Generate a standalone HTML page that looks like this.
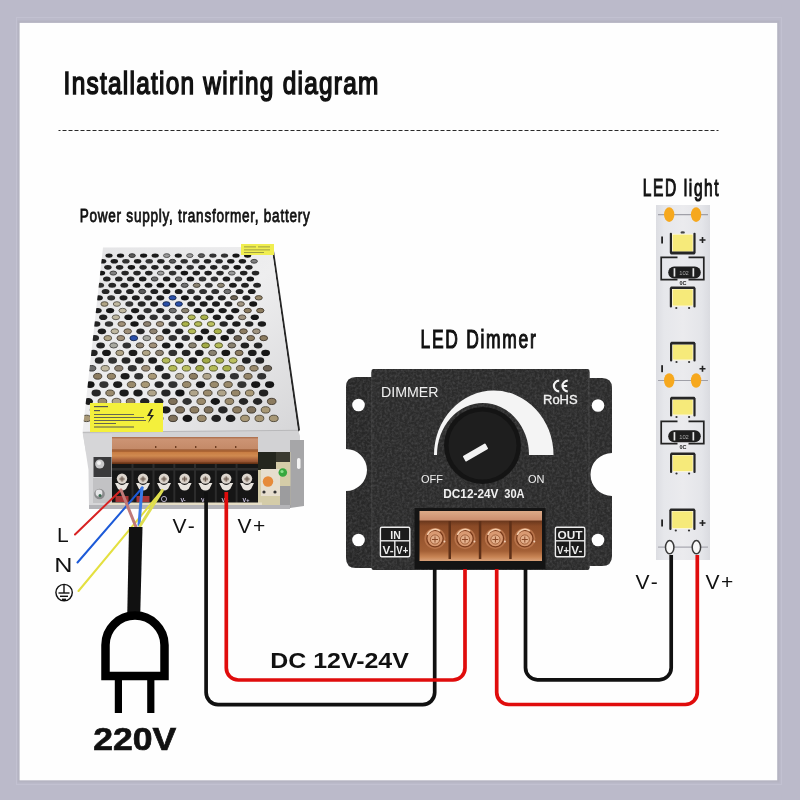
<!DOCTYPE html>
<html><head><meta charset="utf-8">
<style>
html,body{margin:0;padding:0;background:#bbbaca;}
body{width:800px;height:800px;overflow:hidden;position:relative;font-family:"Liberation Sans",sans-serif;}
svg{position:absolute;left:0;top:0;will-change:transform;}
</style></head>
<body>
<svg width="800" height="800" viewBox="0 0 800 800" font-family="Liberation Sans, sans-serif">
<defs>
<linearGradient id="psuTop" x1="0" y1="0" x2="1" y2="1">
<stop offset="0" stop-color="#e4e4e6"/><stop offset="0.5" stop-color="#eeeeef"/><stop offset="1" stop-color="#d6d6d8"/>
</linearGradient>
<linearGradient id="orangeCov" x1="0" y1="0" x2="0" y2="1">
<stop offset="0" stop-color="#a86a48"/><stop offset="0.08" stop-color="#cc9474"/><stop offset="0.44" stop-color="#c48a68"/><stop offset="0.47" stop-color="#a0603a"/><stop offset="0.53" stop-color="#c67a40"/><stop offset="0.7" stop-color="#d08a50"/><stop offset="0.85" stop-color="#a8603a"/><stop offset="1" stop-color="#7e4426"/>
</linearGradient>
<linearGradient id="dimCov" x1="0" y1="0" x2="0" y2="1">
<stop offset="0" stop-color="#dcaa88"/><stop offset="0.17" stop-color="#cc9070"/><stop offset="0.21" stop-color="#6e3a1e"/><stop offset="0.3" stop-color="#8a4a26"/><stop offset="0.8" stop-color="#a46036"/><stop offset="0.92" stop-color="#c88454"/><stop offset="1" stop-color="#d8a078"/>
</linearGradient>
<radialGradient id="screwD" cx="0.45" cy="0.4" r="0.6">
<stop offset="0" stop-color="#f0b888"/><stop offset="0.7" stop-color="#d08c5c"/><stop offset="1" stop-color="#7a3c18"/>
</radialGradient>
<linearGradient id="stripG" x1="0" y1="0" x2="1" y2="0">
<stop offset="0" stop-color="#dcdde2"/><stop offset="0.15" stop-color="#e6e7eb"/><stop offset="0.5" stop-color="#ebebee"/><stop offset="0.85" stop-color="#e4e5e9"/><stop offset="1" stop-color="#dadbe0"/>
</linearGradient>
<filter id="soft" x="-5%" y="-5%" width="110%" height="110%"><feGaussianBlur stdDeviation="0.35"/></filter>
<filter id="grain" x="0" y="0" width="100%" height="100%" filterUnits="userSpaceOnUse">
<feTurbulence type="fractalNoise" baseFrequency="0.4" numOctaves="2" seed="4" result="n"/>
<feColorMatrix in="n" type="matrix" values="0 0 0 0 0.5  0 0 0 0 0.5  0 0 0 0 0.52  1.6 0 0 0 -0.55" />
</filter>
<clipPath id="dimClip">
<path d="M372 377 H356 Q346 377 346 387 V449 A21 21 0 0 1 346 491 V558 Q346 568 356 568 H372 Z"/>
<path d="M589 378 H602 Q612 378 612 388 V453 A21 21 0 0 0 612 496 V556 Q612 566 602 566 H589 Z"/>
<rect x="371.5" y="369" width="218" height="201"/>
</clipPath>
<clipPath id="faceClip"><polygon points="103,247.5 271.5,247 298,430 82.5,432"/></clipPath>
</defs>
<rect x="0" y="0" width="800" height="800" fill="#bbbaca"/>
<rect x="16.5" y="17.5" width="765" height="767" fill="none" stroke="#c2c1d1" stroke-width="1"/>
<rect x="17.5" y="20.5" width="762" height="762" fill="#b5b4c2"/>
<rect x="19.6" y="22.9" width="757.6" height="757.4" fill="#fefefe"/>

<!-- title -->
<text x="63.6" y="93.5" font-size="31" letter-spacing="1.6" fill="#111" stroke="#111" stroke-width="1.55" textLength="316" lengthAdjust="spacingAndGlyphs">Installation wiring diagram</text>
<line x1="58.5" y1="130.5" x2="718.5" y2="130.5" stroke="#2a2a2a" stroke-width="1" stroke-dasharray="4 2" stroke-dashoffset="2"/>

<text x="79.7" y="222.4" font-size="18.4" letter-spacing="1" fill="#111" stroke="#111" stroke-width="0.8" textLength="230.8" lengthAdjust="spacingAndGlyphs">Power supply, transformer, battery</text>
<text x="420.5" y="348.4" font-size="25.5" letter-spacing="2.5" fill="#111" stroke="#111" stroke-width="1.15" textLength="117" lengthAdjust="spacingAndGlyphs">LED Dimmer</text>
<text x="642.8" y="196" font-size="24" letter-spacing="2.5" fill="#111" stroke="#111" stroke-width="1.15" textLength="77.5" lengthAdjust="spacingAndGlyphs">LED light</text>

<!-- ============ POWER SUPPLY ============ -->
<g id="psu">
<!-- right side dark edge -->
<polygon points="271.5,247 273.5,247.5 300,430 298,432" fill="#262626"/>
<!-- top face -->
<polygon points="103,247.5 271.5,247 298,430 82.5,432" fill="url(#psuTop)"/>
<g clip-path="url(#faceClip)" filter="url(#soft)">
<ellipse cx="109.0" cy="255.6" rx="3.6" ry="2.2" fill="#1c1c1c"/>
<ellipse cx="120.5" cy="255.6" rx="3.6" ry="2.2" fill="#141414"/>
<ellipse cx="132.1" cy="255.6" rx="3.2" ry="1.9" fill="#5a5a5a" stroke="#282828" stroke-width="0.9"/>
<ellipse cx="143.6" cy="255.6" rx="3.6" ry="2.2" fill="#141414"/>
<ellipse cx="155.2" cy="255.6" rx="3.6" ry="2.2" fill="#1c1c1c"/>
<ellipse cx="166.7" cy="255.6" rx="3.2" ry="1.9" fill="#9a9a9a" stroke="#454545" stroke-width="0.9"/>
<ellipse cx="178.3" cy="255.6" rx="3.6" ry="2.2" fill="#1c1c1c"/>
<ellipse cx="189.8" cy="255.6" rx="3.2" ry="1.9" fill="#9a9a9a" stroke="#454545" stroke-width="0.9"/>
<ellipse cx="201.4" cy="255.6" rx="3.2" ry="1.9" fill="#5a5a5a" stroke="#282828" stroke-width="0.9"/>
<ellipse cx="212.9" cy="255.6" rx="3.6" ry="2.2" fill="#303030"/>
<ellipse cx="224.5" cy="255.6" rx="3.6" ry="2.2" fill="#303030"/>
<ellipse cx="236.0" cy="255.6" rx="3.6" ry="2.2" fill="#141414"/>
<ellipse cx="247.6" cy="255.6" rx="3.6" ry="2.2" fill="#141414"/>
<ellipse cx="102.6" cy="261.3" rx="3.7" ry="2.3" fill="#1c1c1c"/>
<ellipse cx="114.3" cy="261.3" rx="3.7" ry="2.3" fill="#1c1c1c"/>
<ellipse cx="125.9" cy="261.3" rx="3.7" ry="2.3" fill="#303030"/>
<ellipse cx="137.6" cy="261.3" rx="3.7" ry="2.3" fill="#1c1c1c"/>
<ellipse cx="149.2" cy="261.3" rx="3.7" ry="2.3" fill="#303030"/>
<ellipse cx="160.9" cy="261.3" rx="3.7" ry="2.3" fill="#222"/>
<ellipse cx="172.5" cy="261.3" rx="3.3" ry="1.9" fill="#5a5a5a" stroke="#282828" stroke-width="0.9"/>
<ellipse cx="184.2" cy="261.3" rx="3.7" ry="2.3" fill="#303030"/>
<ellipse cx="195.8" cy="261.3" rx="3.7" ry="2.3" fill="#303030"/>
<ellipse cx="207.5" cy="261.3" rx="3.7" ry="2.3" fill="#222"/>
<ellipse cx="219.1" cy="261.3" rx="3.7" ry="2.3" fill="#282828"/>
<ellipse cx="230.8" cy="261.3" rx="3.7" ry="2.3" fill="#1c1c1c"/>
<ellipse cx="242.4" cy="261.3" rx="3.7" ry="2.3" fill="#1c1c1c"/>
<ellipse cx="254.1" cy="261.3" rx="3.3" ry="1.9" fill="#808080" stroke="#393939" stroke-width="0.9"/>
<ellipse cx="107.9" cy="267.3" rx="3.7" ry="2.4" fill="#222"/>
<ellipse cx="119.6" cy="267.3" rx="3.7" ry="2.4" fill="#222"/>
<ellipse cx="131.4" cy="267.3" rx="3.7" ry="2.4" fill="#141414"/>
<ellipse cx="143.1" cy="267.3" rx="3.7" ry="2.4" fill="#282828"/>
<ellipse cx="154.9" cy="267.3" rx="3.7" ry="2.4" fill="#222"/>
<ellipse cx="166.7" cy="267.3" rx="3.7" ry="2.4" fill="#282828"/>
<ellipse cx="178.4" cy="267.3" rx="3.7" ry="2.4" fill="#141414"/>
<ellipse cx="190.2" cy="267.3" rx="3.7" ry="2.4" fill="#303030"/>
<ellipse cx="201.9" cy="267.3" rx="3.7" ry="2.4" fill="#222"/>
<ellipse cx="213.7" cy="267.3" rx="3.7" ry="2.4" fill="#222"/>
<ellipse cx="225.4" cy="267.3" rx="3.7" ry="2.4" fill="#303030"/>
<ellipse cx="237.2" cy="267.3" rx="3.7" ry="2.4" fill="#141414"/>
<ellipse cx="248.9" cy="267.3" rx="3.7" ry="2.4" fill="#222"/>
<ellipse cx="101.4" cy="273.1" rx="3.8" ry="2.4" fill="#141414"/>
<ellipse cx="113.3" cy="273.1" rx="3.4" ry="2.0" fill="#808080" stroke="#393939" stroke-width="0.9"/>
<ellipse cx="125.1" cy="273.1" rx="3.8" ry="2.4" fill="#282828"/>
<ellipse cx="137.0" cy="273.1" rx="3.8" ry="2.4" fill="#282828"/>
<ellipse cx="148.8" cy="273.1" rx="3.8" ry="2.4" fill="#222"/>
<ellipse cx="160.7" cy="273.1" rx="3.4" ry="2.0" fill="#9a9a9a" stroke="#454545" stroke-width="0.9"/>
<ellipse cx="172.6" cy="273.1" rx="3.8" ry="2.4" fill="#303030"/>
<ellipse cx="184.4" cy="273.1" rx="3.8" ry="2.4" fill="#141414"/>
<ellipse cx="196.3" cy="273.1" rx="3.8" ry="2.4" fill="#222"/>
<ellipse cx="208.1" cy="273.1" rx="3.8" ry="2.4" fill="#1c1c1c"/>
<ellipse cx="220.0" cy="273.1" rx="3.8" ry="2.4" fill="#282828"/>
<ellipse cx="231.8" cy="273.1" rx="3.4" ry="2.0" fill="#9a9a9a" stroke="#454545" stroke-width="0.9"/>
<ellipse cx="243.7" cy="273.1" rx="3.8" ry="2.4" fill="#222"/>
<ellipse cx="255.5" cy="273.1" rx="3.8" ry="2.4" fill="#282828"/>
<ellipse cx="106.8" cy="279.0" rx="3.8" ry="2.5" fill="#222"/>
<ellipse cx="118.8" cy="279.0" rx="3.8" ry="2.5" fill="#222"/>
<ellipse cx="130.7" cy="279.0" rx="3.8" ry="2.5" fill="#282828"/>
<ellipse cx="142.7" cy="279.0" rx="3.8" ry="2.5" fill="#1c1c1c"/>
<ellipse cx="154.6" cy="279.0" rx="3.4" ry="2.1" fill="#6a6a6a" stroke="#2f2f2f" stroke-width="0.9"/>
<ellipse cx="166.6" cy="279.0" rx="3.8" ry="2.5" fill="#1c1c1c"/>
<ellipse cx="178.6" cy="279.0" rx="3.4" ry="2.1" fill="#6a6a6a" stroke="#2f2f2f" stroke-width="0.9"/>
<ellipse cx="190.5" cy="279.0" rx="3.8" ry="2.5" fill="#141414"/>
<ellipse cx="202.5" cy="279.0" rx="3.8" ry="2.5" fill="#303030"/>
<ellipse cx="214.4" cy="279.0" rx="3.8" ry="2.5" fill="#303030"/>
<ellipse cx="226.4" cy="279.0" rx="3.8" ry="2.5" fill="#1c1c1c"/>
<ellipse cx="238.3" cy="279.0" rx="3.8" ry="2.5" fill="#303030"/>
<ellipse cx="250.3" cy="279.0" rx="3.8" ry="2.5" fill="#141414"/>
<ellipse cx="100.2" cy="285.3" rx="3.9" ry="2.5" fill="#303030"/>
<ellipse cx="112.2" cy="285.3" rx="3.9" ry="2.5" fill="#282828"/>
<ellipse cx="124.3" cy="285.3" rx="3.9" ry="2.5" fill="#282828"/>
<ellipse cx="136.4" cy="285.3" rx="3.9" ry="2.5" fill="#141414"/>
<ellipse cx="148.5" cy="285.3" rx="3.9" ry="2.5" fill="#1c1c1c"/>
<ellipse cx="160.5" cy="285.3" rx="3.9" ry="2.5" fill="#141414"/>
<ellipse cx="172.6" cy="285.3" rx="3.9" ry="2.5" fill="#141414"/>
<ellipse cx="184.7" cy="285.3" rx="3.5" ry="2.1" fill="#707070" stroke="#323232" stroke-width="0.9"/>
<ellipse cx="196.7" cy="285.3" rx="3.5" ry="2.1" fill="#8a8270" stroke="#3e3a32" stroke-width="0.9"/>
<ellipse cx="208.8" cy="285.3" rx="3.9" ry="2.5" fill="#303030"/>
<ellipse cx="220.9" cy="285.3" rx="3.5" ry="2.1" fill="#8a8270" stroke="#3e3a32" stroke-width="0.9"/>
<ellipse cx="232.9" cy="285.3" rx="3.9" ry="2.5" fill="#1c1c1c"/>
<ellipse cx="245.0" cy="285.3" rx="3.9" ry="2.5" fill="#222"/>
<ellipse cx="257.1" cy="285.3" rx="3.9" ry="2.5" fill="#282828"/>
<ellipse cx="105.6" cy="291.5" rx="3.9" ry="2.6" fill="#282828"/>
<ellipse cx="117.8" cy="291.5" rx="3.9" ry="2.6" fill="#282828"/>
<ellipse cx="130.0" cy="291.5" rx="3.9" ry="2.6" fill="#222"/>
<ellipse cx="142.2" cy="291.5" rx="3.5" ry="2.2" fill="#5a5a5a" stroke="#282828" stroke-width="0.9"/>
<ellipse cx="154.3" cy="291.5" rx="3.9" ry="2.6" fill="#222"/>
<ellipse cx="166.5" cy="291.5" rx="3.9" ry="2.6" fill="#1c1c1c"/>
<ellipse cx="178.7" cy="291.5" rx="3.9" ry="2.6" fill="#1c1c1c"/>
<ellipse cx="190.9" cy="291.5" rx="3.9" ry="2.6" fill="#303030"/>
<ellipse cx="203.1" cy="291.5" rx="3.9" ry="2.6" fill="#303030"/>
<ellipse cx="215.2" cy="291.5" rx="3.9" ry="2.6" fill="#303030"/>
<ellipse cx="227.4" cy="291.5" rx="3.5" ry="2.2" fill="#707070" stroke="#323232" stroke-width="0.9"/>
<ellipse cx="239.6" cy="291.5" rx="3.9" ry="2.6" fill="#222"/>
<ellipse cx="251.8" cy="291.5" rx="3.9" ry="2.6" fill="#1c1c1c"/>
<ellipse cx="98.9" cy="297.8" rx="4.0" ry="2.6" fill="#1c1c1c"/>
<ellipse cx="111.2" cy="297.8" rx="4.0" ry="2.6" fill="#303030"/>
<ellipse cx="123.5" cy="297.8" rx="4.0" ry="2.6" fill="#1c1c1c"/>
<ellipse cx="135.8" cy="297.8" rx="4.0" ry="2.6" fill="#1c1c1c"/>
<ellipse cx="148.1" cy="297.8" rx="4.0" ry="2.6" fill="#282828"/>
<ellipse cx="160.3" cy="297.8" rx="4.0" ry="2.6" fill="#1c1c1c"/>
<ellipse cx="172.6" cy="297.8" rx="3.6" ry="2.2" fill="#2a50a8" stroke="#12244b" stroke-width="0.9"/>
<ellipse cx="184.9" cy="297.8" rx="4.0" ry="2.6" fill="#141414"/>
<ellipse cx="197.2" cy="297.8" rx="4.0" ry="2.6" fill="#222"/>
<ellipse cx="209.5" cy="297.8" rx="4.0" ry="2.6" fill="#1c1c1c"/>
<ellipse cx="221.8" cy="297.8" rx="4.0" ry="2.6" fill="#222"/>
<ellipse cx="234.1" cy="297.8" rx="3.6" ry="2.2" fill="#6e6454" stroke="#312d25" stroke-width="0.9"/>
<ellipse cx="246.4" cy="297.8" rx="4.0" ry="2.6" fill="#222"/>
<ellipse cx="258.7" cy="297.8" rx="3.6" ry="2.2" fill="#9a8a6c" stroke="#453e30" stroke-width="0.9"/>
<ellipse cx="104.5" cy="304.0" rx="3.6" ry="2.3" fill="#b0a486" stroke="#4f493c" stroke-width="0.9"/>
<ellipse cx="116.9" cy="304.0" rx="3.6" ry="2.3" fill="#c0b8a0" stroke="#565248" stroke-width="0.9"/>
<ellipse cx="129.3" cy="304.0" rx="4.0" ry="2.7" fill="#303030"/>
<ellipse cx="141.7" cy="304.0" rx="4.0" ry="2.7" fill="#282828"/>
<ellipse cx="154.1" cy="304.0" rx="4.0" ry="2.7" fill="#222"/>
<ellipse cx="166.4" cy="304.0" rx="3.6" ry="2.3" fill="#2a50a8" stroke="#12244b" stroke-width="0.9"/>
<ellipse cx="178.8" cy="304.0" rx="3.6" ry="2.3" fill="#2a50a8" stroke="#12244b" stroke-width="0.9"/>
<ellipse cx="191.2" cy="304.0" rx="4.0" ry="2.7" fill="#282828"/>
<ellipse cx="203.6" cy="304.0" rx="4.0" ry="2.7" fill="#1c1c1c"/>
<ellipse cx="216.0" cy="304.0" rx="4.0" ry="2.7" fill="#1c1c1c"/>
<ellipse cx="228.4" cy="304.0" rx="4.0" ry="2.7" fill="#222"/>
<ellipse cx="240.8" cy="304.0" rx="3.6" ry="2.3" fill="#a09480" stroke="#484239" stroke-width="0.9"/>
<ellipse cx="253.2" cy="304.0" rx="4.0" ry="2.7" fill="#141414"/>
<ellipse cx="97.6" cy="310.6" rx="4.1" ry="2.7" fill="#1c1c1c"/>
<ellipse cx="110.1" cy="310.6" rx="4.1" ry="2.7" fill="#141414"/>
<ellipse cx="122.6" cy="310.6" rx="3.7" ry="2.3" fill="#c0b8a0" stroke="#565248" stroke-width="0.9"/>
<ellipse cx="135.1" cy="310.6" rx="4.1" ry="2.7" fill="#1c1c1c"/>
<ellipse cx="147.6" cy="310.6" rx="4.1" ry="2.7" fill="#303030"/>
<ellipse cx="160.2" cy="310.6" rx="4.1" ry="2.7" fill="#222"/>
<ellipse cx="172.7" cy="310.6" rx="3.7" ry="2.3" fill="#707070" stroke="#323232" stroke-width="0.9"/>
<ellipse cx="185.2" cy="310.6" rx="3.7" ry="2.3" fill="#8a8270" stroke="#3e3a32" stroke-width="0.9"/>
<ellipse cx="197.7" cy="310.6" rx="4.1" ry="2.7" fill="#141414"/>
<ellipse cx="210.2" cy="310.6" rx="4.1" ry="2.7" fill="#1c1c1c"/>
<ellipse cx="222.7" cy="310.6" rx="4.1" ry="2.7" fill="#1c1c1c"/>
<ellipse cx="235.2" cy="310.6" rx="4.1" ry="2.7" fill="#1c1c1c"/>
<ellipse cx="247.7" cy="310.6" rx="3.7" ry="2.3" fill="#8c7c60" stroke="#3f372b" stroke-width="0.9"/>
<ellipse cx="260.3" cy="310.6" rx="3.7" ry="2.3" fill="#8c7c60" stroke="#3f372b" stroke-width="0.9"/>
<ellipse cx="103.2" cy="317.3" rx="4.1" ry="2.8" fill="#222"/>
<ellipse cx="115.9" cy="317.3" rx="3.7" ry="2.4" fill="#c0b8a0" stroke="#565248" stroke-width="0.9"/>
<ellipse cx="128.5" cy="317.3" rx="4.1" ry="2.8" fill="#141414"/>
<ellipse cx="141.1" cy="317.3" rx="4.1" ry="2.8" fill="#222"/>
<ellipse cx="153.7" cy="317.3" rx="4.1" ry="2.8" fill="#303030"/>
<ellipse cx="166.4" cy="317.3" rx="4.1" ry="2.8" fill="#303030"/>
<ellipse cx="179.0" cy="317.3" rx="4.1" ry="2.8" fill="#303030"/>
<ellipse cx="191.6" cy="317.3" rx="3.7" ry="2.4" fill="#b4ba58" stroke="#515327" stroke-width="0.9"/>
<ellipse cx="204.3" cy="317.3" rx="3.7" ry="2.4" fill="#aab24a" stroke="#4c5021" stroke-width="0.9"/>
<ellipse cx="216.9" cy="317.3" rx="4.1" ry="2.8" fill="#1c1c1c"/>
<ellipse cx="229.5" cy="317.3" rx="4.1" ry="2.8" fill="#1c1c1c"/>
<ellipse cx="242.2" cy="317.3" rx="3.7" ry="2.4" fill="#a09480" stroke="#484239" stroke-width="0.9"/>
<ellipse cx="254.8" cy="317.3" rx="4.1" ry="2.8" fill="#141414"/>
<ellipse cx="96.2" cy="324.0" rx="4.2" ry="2.8" fill="#222"/>
<ellipse cx="109.0" cy="324.0" rx="4.2" ry="2.8" fill="#303030"/>
<ellipse cx="121.7" cy="324.0" rx="3.8" ry="2.4" fill="#a09078" stroke="#484036" stroke-width="0.9"/>
<ellipse cx="134.5" cy="324.0" rx="4.2" ry="2.8" fill="#141414"/>
<ellipse cx="147.2" cy="324.0" rx="3.8" ry="2.4" fill="#8e8270" stroke="#3f3a32" stroke-width="0.9"/>
<ellipse cx="160.0" cy="324.0" rx="3.8" ry="2.4" fill="#a09078" stroke="#484036" stroke-width="0.9"/>
<ellipse cx="172.7" cy="324.0" rx="4.2" ry="2.8" fill="#303030"/>
<ellipse cx="185.5" cy="324.0" rx="3.8" ry="2.4" fill="#aab24a" stroke="#4c5021" stroke-width="0.9"/>
<ellipse cx="198.2" cy="324.0" rx="3.8" ry="2.4" fill="#b4ba58" stroke="#515327" stroke-width="0.9"/>
<ellipse cx="211.0" cy="324.0" rx="3.8" ry="2.4" fill="#bcc060" stroke="#54562b" stroke-width="0.9"/>
<ellipse cx="223.7" cy="324.0" rx="4.2" ry="2.8" fill="#282828"/>
<ellipse cx="236.4" cy="324.0" rx="4.2" ry="2.8" fill="#1c1c1c"/>
<ellipse cx="249.2" cy="324.0" rx="4.2" ry="2.8" fill="#222"/>
<ellipse cx="261.9" cy="324.0" rx="4.2" ry="2.8" fill="#1c1c1c"/>
<ellipse cx="101.9" cy="331.3" rx="4.2" ry="2.9" fill="#1c1c1c"/>
<ellipse cx="114.8" cy="331.3" rx="3.8" ry="2.5" fill="#c0b8a0" stroke="#565248" stroke-width="0.9"/>
<ellipse cx="127.7" cy="331.3" rx="3.8" ry="2.5" fill="#a09078" stroke="#484036" stroke-width="0.9"/>
<ellipse cx="140.5" cy="331.3" rx="4.2" ry="2.9" fill="#282828"/>
<ellipse cx="153.4" cy="331.3" rx="3.8" ry="2.5" fill="#8e8270" stroke="#3f3a32" stroke-width="0.9"/>
<ellipse cx="166.3" cy="331.3" rx="4.2" ry="2.9" fill="#1c1c1c"/>
<ellipse cx="179.2" cy="331.3" rx="4.2" ry="2.9" fill="#222"/>
<ellipse cx="192.0" cy="331.3" rx="3.8" ry="2.5" fill="#b4ba58" stroke="#515327" stroke-width="0.9"/>
<ellipse cx="204.9" cy="331.3" rx="4.2" ry="2.9" fill="#1c1c1c"/>
<ellipse cx="217.8" cy="331.3" rx="3.8" ry="2.5" fill="#aab24a" stroke="#4c5021" stroke-width="0.9"/>
<ellipse cx="230.7" cy="331.3" rx="4.2" ry="2.9" fill="#282828"/>
<ellipse cx="243.5" cy="331.3" rx="3.8" ry="2.5" fill="#8c7c60" stroke="#3f372b" stroke-width="0.9"/>
<ellipse cx="256.4" cy="331.3" rx="3.8" ry="2.5" fill="#a09480" stroke="#484239" stroke-width="0.9"/>
<ellipse cx="94.8" cy="338.1" rx="4.3" ry="3.0" fill="#282828"/>
<ellipse cx="107.8" cy="338.1" rx="3.9" ry="2.6" fill="#b0a486" stroke="#4f493c" stroke-width="0.9"/>
<ellipse cx="120.8" cy="338.1" rx="3.9" ry="2.6" fill="#a09078" stroke="#484036" stroke-width="0.9"/>
<ellipse cx="133.8" cy="338.1" rx="3.9" ry="2.6" fill="#2a50a8" stroke="#12244b" stroke-width="0.9"/>
<ellipse cx="146.8" cy="338.1" rx="3.9" ry="2.6" fill="#a8a8a0" stroke="#4b4b48" stroke-width="0.9"/>
<ellipse cx="159.8" cy="338.1" rx="3.9" ry="2.6" fill="#a09078" stroke="#484036" stroke-width="0.9"/>
<ellipse cx="172.8" cy="338.1" rx="4.3" ry="3.0" fill="#303030"/>
<ellipse cx="185.7" cy="338.1" rx="4.3" ry="3.0" fill="#303030"/>
<ellipse cx="198.7" cy="338.1" rx="4.3" ry="3.0" fill="#141414"/>
<ellipse cx="211.7" cy="338.1" rx="4.3" ry="3.0" fill="#1c1c1c"/>
<ellipse cx="224.7" cy="338.1" rx="4.3" ry="3.0" fill="#141414"/>
<ellipse cx="237.7" cy="338.1" rx="3.9" ry="2.6" fill="#6e6454" stroke="#312d25" stroke-width="0.9"/>
<ellipse cx="250.7" cy="338.1" rx="3.9" ry="2.6" fill="#8c7c60" stroke="#3f372b" stroke-width="0.9"/>
<ellipse cx="263.7" cy="338.1" rx="3.9" ry="2.6" fill="#8c7c60" stroke="#3f372b" stroke-width="0.9"/>
<ellipse cx="100.6" cy="345.4" rx="4.3" ry="3.0" fill="#222"/>
<ellipse cx="113.7" cy="345.4" rx="3.9" ry="2.6" fill="#a8a8a0" stroke="#4b4b48" stroke-width="0.9"/>
<ellipse cx="126.8" cy="345.4" rx="4.3" ry="3.0" fill="#303030"/>
<ellipse cx="140.0" cy="345.4" rx="3.9" ry="2.6" fill="#8e8270" stroke="#3f3a32" stroke-width="0.9"/>
<ellipse cx="153.1" cy="345.4" rx="3.9" ry="2.6" fill="#a09078" stroke="#484036" stroke-width="0.9"/>
<ellipse cx="166.2" cy="345.4" rx="4.3" ry="3.0" fill="#1c1c1c"/>
<ellipse cx="179.3" cy="345.4" rx="4.3" ry="3.0" fill="#141414"/>
<ellipse cx="192.5" cy="345.4" rx="3.9" ry="2.6" fill="#8a8270" stroke="#3e3a32" stroke-width="0.9"/>
<ellipse cx="205.6" cy="345.4" rx="3.9" ry="2.6" fill="#a2aa44" stroke="#484c1e" stroke-width="0.9"/>
<ellipse cx="218.7" cy="345.4" rx="3.9" ry="2.6" fill="#b4ba58" stroke="#515327" stroke-width="0.9"/>
<ellipse cx="231.8" cy="345.4" rx="3.9" ry="2.6" fill="#8a8270" stroke="#3e3a32" stroke-width="0.9"/>
<ellipse cx="244.9" cy="345.4" rx="4.3" ry="3.0" fill="#222"/>
<ellipse cx="258.1" cy="345.4" rx="4.3" ry="3.0" fill="#282828"/>
<ellipse cx="93.3" cy="352.9" rx="4.4" ry="3.1" fill="#222"/>
<ellipse cx="106.5" cy="352.9" rx="4.4" ry="3.1" fill="#141414"/>
<ellipse cx="119.8" cy="352.9" rx="4.0" ry="2.7" fill="#b0a486" stroke="#4f493c" stroke-width="0.9"/>
<ellipse cx="133.0" cy="352.9" rx="4.4" ry="3.1" fill="#1c1c1c"/>
<ellipse cx="146.3" cy="352.9" rx="4.0" ry="2.7" fill="#b0a486" stroke="#4f493c" stroke-width="0.9"/>
<ellipse cx="159.5" cy="352.9" rx="4.0" ry="2.7" fill="#8e8270" stroke="#3f3a32" stroke-width="0.9"/>
<ellipse cx="172.8" cy="352.9" rx="4.4" ry="3.1" fill="#303030"/>
<ellipse cx="186.1" cy="352.9" rx="4.4" ry="3.1" fill="#222"/>
<ellipse cx="199.3" cy="352.9" rx="4.4" ry="3.1" fill="#1c1c1c"/>
<ellipse cx="212.6" cy="352.9" rx="4.0" ry="2.7" fill="#8a8270" stroke="#3e3a32" stroke-width="0.9"/>
<ellipse cx="225.8" cy="352.9" rx="4.4" ry="3.1" fill="#141414"/>
<ellipse cx="239.1" cy="352.9" rx="4.0" ry="2.7" fill="#8c7c60" stroke="#3f372b" stroke-width="0.9"/>
<ellipse cx="252.3" cy="352.9" rx="4.4" ry="3.1" fill="#1c1c1c"/>
<ellipse cx="265.6" cy="352.9" rx="4.4" ry="3.1" fill="#141414"/>
<ellipse cx="99.2" cy="360.5" rx="4.4" ry="3.2" fill="#282828"/>
<ellipse cx="112.6" cy="360.5" rx="4.4" ry="3.2" fill="#303030"/>
<ellipse cx="126.0" cy="360.5" rx="4.4" ry="3.2" fill="#282828"/>
<ellipse cx="139.4" cy="360.5" rx="4.4" ry="3.2" fill="#222"/>
<ellipse cx="152.7" cy="360.5" rx="4.4" ry="3.2" fill="#1c1c1c"/>
<ellipse cx="166.1" cy="360.5" rx="4.0" ry="2.8" fill="#b4ba58" stroke="#515327" stroke-width="0.9"/>
<ellipse cx="179.5" cy="360.5" rx="4.0" ry="2.8" fill="#a2aa44" stroke="#484c1e" stroke-width="0.9"/>
<ellipse cx="192.9" cy="360.5" rx="4.4" ry="3.2" fill="#1c1c1c"/>
<ellipse cx="206.3" cy="360.5" rx="4.0" ry="2.8" fill="#a2aa44" stroke="#484c1e" stroke-width="0.9"/>
<ellipse cx="219.7" cy="360.5" rx="4.0" ry="2.8" fill="#aab24a" stroke="#4c5021" stroke-width="0.9"/>
<ellipse cx="233.1" cy="360.5" rx="4.0" ry="2.8" fill="#bcc060" stroke="#54562b" stroke-width="0.9"/>
<ellipse cx="246.4" cy="360.5" rx="4.4" ry="3.2" fill="#222"/>
<ellipse cx="259.8" cy="360.5" rx="4.4" ry="3.2" fill="#222"/>
<ellipse cx="91.7" cy="368.3" rx="4.1" ry="2.8" fill="#6a6a6a" stroke="#2f2f2f" stroke-width="0.9"/>
<ellipse cx="105.2" cy="368.3" rx="4.1" ry="2.8" fill="#c0b8a0" stroke="#565248" stroke-width="0.9"/>
<ellipse cx="118.8" cy="368.3" rx="4.1" ry="2.8" fill="#8e8270" stroke="#3f3a32" stroke-width="0.9"/>
<ellipse cx="132.3" cy="368.3" rx="4.5" ry="3.2" fill="#303030"/>
<ellipse cx="145.8" cy="368.3" rx="4.1" ry="2.8" fill="#a09078" stroke="#484036" stroke-width="0.9"/>
<ellipse cx="159.3" cy="368.3" rx="4.5" ry="3.2" fill="#222"/>
<ellipse cx="172.8" cy="368.3" rx="4.1" ry="2.8" fill="#b4ba58" stroke="#515327" stroke-width="0.9"/>
<ellipse cx="186.4" cy="368.3" rx="4.1" ry="2.8" fill="#bcc060" stroke="#54562b" stroke-width="0.9"/>
<ellipse cx="199.9" cy="368.3" rx="4.1" ry="2.8" fill="#a2aa44" stroke="#484c1e" stroke-width="0.9"/>
<ellipse cx="213.4" cy="368.3" rx="4.1" ry="2.8" fill="#b4ba58" stroke="#515327" stroke-width="0.9"/>
<ellipse cx="226.9" cy="368.3" rx="4.1" ry="2.8" fill="#aab24a" stroke="#4c5021" stroke-width="0.9"/>
<ellipse cx="240.5" cy="368.3" rx="4.1" ry="2.8" fill="#9a8a6c" stroke="#453e30" stroke-width="0.9"/>
<ellipse cx="254.0" cy="368.3" rx="4.1" ry="2.8" fill="#9a8a6c" stroke="#453e30" stroke-width="0.9"/>
<ellipse cx="267.5" cy="368.3" rx="4.1" ry="2.8" fill="#6e6454" stroke="#312d25" stroke-width="0.9"/>
<ellipse cx="97.7" cy="376.3" rx="4.1" ry="2.9" fill="#8c7c60" stroke="#3f372b" stroke-width="0.9"/>
<ellipse cx="111.4" cy="376.3" rx="4.1" ry="2.9" fill="#958568" stroke="#433b2e" stroke-width="0.9"/>
<ellipse cx="125.1" cy="376.3" rx="4.5" ry="3.3" fill="#1c1c1c"/>
<ellipse cx="138.7" cy="376.3" rx="4.5" ry="3.3" fill="#303030"/>
<ellipse cx="152.4" cy="376.3" rx="4.1" ry="2.9" fill="#a89876" stroke="#4b4435" stroke-width="0.9"/>
<ellipse cx="166.0" cy="376.3" rx="4.5" ry="3.3" fill="#282828"/>
<ellipse cx="179.7" cy="376.3" rx="4.1" ry="2.9" fill="#b0a48a" stroke="#4f493e" stroke-width="0.9"/>
<ellipse cx="193.4" cy="376.3" rx="4.1" ry="2.9" fill="#8c7c60" stroke="#3f372b" stroke-width="0.9"/>
<ellipse cx="207.0" cy="376.3" rx="4.1" ry="2.9" fill="#b0a48a" stroke="#4f493e" stroke-width="0.9"/>
<ellipse cx="220.7" cy="376.3" rx="4.5" ry="3.3" fill="#282828"/>
<ellipse cx="234.4" cy="376.3" rx="4.5" ry="3.3" fill="#303030"/>
<ellipse cx="248.0" cy="376.3" rx="4.1" ry="2.9" fill="#958568" stroke="#433b2e" stroke-width="0.9"/>
<ellipse cx="261.7" cy="376.3" rx="4.5" ry="3.3" fill="#303030"/>
<ellipse cx="90.0" cy="384.6" rx="4.6" ry="3.4" fill="#141414"/>
<ellipse cx="103.9" cy="384.6" rx="4.6" ry="3.4" fill="#303030"/>
<ellipse cx="117.7" cy="384.6" rx="4.6" ry="3.4" fill="#1c1c1c"/>
<ellipse cx="131.5" cy="384.6" rx="4.2" ry="3.0" fill="#9a8a6c" stroke="#453e30" stroke-width="0.9"/>
<ellipse cx="145.3" cy="384.6" rx="4.2" ry="3.0" fill="#a89876" stroke="#4b4435" stroke-width="0.9"/>
<ellipse cx="159.1" cy="384.6" rx="4.6" ry="3.4" fill="#282828"/>
<ellipse cx="172.9" cy="384.6" rx="4.6" ry="3.4" fill="#303030"/>
<ellipse cx="186.7" cy="384.6" rx="4.2" ry="3.0" fill="#9a8a6c" stroke="#453e30" stroke-width="0.9"/>
<ellipse cx="200.5" cy="384.6" rx="4.6" ry="3.4" fill="#1c1c1c"/>
<ellipse cx="214.3" cy="384.6" rx="4.2" ry="3.0" fill="#9a8a6c" stroke="#453e30" stroke-width="0.9"/>
<ellipse cx="228.1" cy="384.6" rx="4.2" ry="3.0" fill="#9a8a6c" stroke="#453e30" stroke-width="0.9"/>
<ellipse cx="241.9" cy="384.6" rx="4.6" ry="3.4" fill="#303030"/>
<ellipse cx="255.7" cy="384.6" rx="4.6" ry="3.4" fill="#141414"/>
<ellipse cx="269.6" cy="384.6" rx="4.6" ry="3.4" fill="#141414"/>
<ellipse cx="96.2" cy="393.0" rx="4.7" ry="3.4" fill="#282828"/>
<ellipse cx="110.1" cy="393.0" rx="4.3" ry="3.0" fill="#9a8a6c" stroke="#453e30" stroke-width="0.9"/>
<ellipse cx="124.1" cy="393.0" rx="4.7" ry="3.4" fill="#1c1c1c"/>
<ellipse cx="138.0" cy="393.0" rx="4.7" ry="3.4" fill="#1c1c1c"/>
<ellipse cx="152.0" cy="393.0" rx="4.3" ry="3.0" fill="#b0a48a" stroke="#4f493e" stroke-width="0.9"/>
<ellipse cx="165.9" cy="393.0" rx="4.7" ry="3.4" fill="#282828"/>
<ellipse cx="179.9" cy="393.0" rx="4.7" ry="3.4" fill="#141414"/>
<ellipse cx="193.9" cy="393.0" rx="4.3" ry="3.0" fill="#b0a48a" stroke="#4f493e" stroke-width="0.9"/>
<ellipse cx="207.8" cy="393.0" rx="4.3" ry="3.0" fill="#9a8a6c" stroke="#453e30" stroke-width="0.9"/>
<ellipse cx="221.8" cy="393.0" rx="4.3" ry="3.0" fill="#b0a48a" stroke="#4f493e" stroke-width="0.9"/>
<ellipse cx="235.7" cy="393.0" rx="4.3" ry="3.0" fill="#958568" stroke="#433b2e" stroke-width="0.9"/>
<ellipse cx="249.7" cy="393.0" rx="4.3" ry="3.0" fill="#a89876" stroke="#4b4435" stroke-width="0.9"/>
<ellipse cx="263.6" cy="393.0" rx="4.7" ry="3.4" fill="#222"/>
<ellipse cx="88.3" cy="401.4" rx="4.7" ry="3.5" fill="#1c1c1c"/>
<ellipse cx="102.4" cy="401.4" rx="4.3" ry="3.1" fill="#9a8a6c" stroke="#453e30" stroke-width="0.9"/>
<ellipse cx="116.5" cy="401.4" rx="4.3" ry="3.1" fill="#b0a48a" stroke="#4f493e" stroke-width="0.9"/>
<ellipse cx="130.6" cy="401.4" rx="4.3" ry="3.1" fill="#8c7c60" stroke="#3f372b" stroke-width="0.9"/>
<ellipse cx="144.7" cy="401.4" rx="4.7" ry="3.5" fill="#222"/>
<ellipse cx="158.8" cy="401.4" rx="4.7" ry="3.5" fill="#222"/>
<ellipse cx="172.9" cy="401.4" rx="4.3" ry="3.1" fill="#7e705a" stroke="#383228" stroke-width="0.9"/>
<ellipse cx="187.1" cy="401.4" rx="4.7" ry="3.5" fill="#303030"/>
<ellipse cx="201.2" cy="401.4" rx="4.3" ry="3.1" fill="#9a8a6c" stroke="#453e30" stroke-width="0.9"/>
<ellipse cx="215.3" cy="401.4" rx="4.7" ry="3.5" fill="#141414"/>
<ellipse cx="229.4" cy="401.4" rx="4.3" ry="3.1" fill="#9a8a6c" stroke="#453e30" stroke-width="0.9"/>
<ellipse cx="243.5" cy="401.4" rx="4.7" ry="3.5" fill="#282828"/>
<ellipse cx="257.6" cy="401.4" rx="4.7" ry="3.5" fill="#282828"/>
<ellipse cx="271.7" cy="401.4" rx="4.3" ry="3.1" fill="#8c7c60" stroke="#3f372b" stroke-width="0.9"/>
<ellipse cx="94.6" cy="409.9" rx="4.4" ry="3.2" fill="#9a8a6c" stroke="#453e30" stroke-width="0.9"/>
<ellipse cx="108.8" cy="409.9" rx="4.4" ry="3.2" fill="#958568" stroke="#433b2e" stroke-width="0.9"/>
<ellipse cx="123.1" cy="409.9" rx="4.4" ry="3.2" fill="#a89876" stroke="#4b4435" stroke-width="0.9"/>
<ellipse cx="137.3" cy="409.9" rx="4.4" ry="3.2" fill="#b0a48a" stroke="#4f493e" stroke-width="0.9"/>
<ellipse cx="151.6" cy="409.9" rx="4.4" ry="3.2" fill="#9a8a6c" stroke="#453e30" stroke-width="0.9"/>
<ellipse cx="165.8" cy="409.9" rx="4.8" ry="3.6" fill="#1c1c1c"/>
<ellipse cx="180.1" cy="409.9" rx="4.4" ry="3.2" fill="#7e705a" stroke="#383228" stroke-width="0.9"/>
<ellipse cx="194.4" cy="409.9" rx="4.4" ry="3.2" fill="#8c7c60" stroke="#3f372b" stroke-width="0.9"/>
<ellipse cx="208.6" cy="409.9" rx="4.4" ry="3.2" fill="#7e705a" stroke="#383228" stroke-width="0.9"/>
<ellipse cx="222.9" cy="409.9" rx="4.8" ry="3.6" fill="#282828"/>
<ellipse cx="237.1" cy="409.9" rx="4.4" ry="3.2" fill="#8c7c60" stroke="#3f372b" stroke-width="0.9"/>
<ellipse cx="251.4" cy="409.9" rx="4.4" ry="3.2" fill="#7e705a" stroke="#383228" stroke-width="0.9"/>
<ellipse cx="265.6" cy="409.9" rx="4.4" ry="3.2" fill="#a89876" stroke="#4b4435" stroke-width="0.9"/>
<ellipse cx="86.6" cy="418.4" rx="4.4" ry="3.2" fill="#a89876" stroke="#4b4435" stroke-width="0.9"/>
<ellipse cx="101.0" cy="418.4" rx="4.8" ry="3.6" fill="#141414"/>
<ellipse cx="115.4" cy="418.4" rx="4.8" ry="3.6" fill="#1c1c1c"/>
<ellipse cx="129.8" cy="418.4" rx="4.8" ry="3.6" fill="#222"/>
<ellipse cx="144.2" cy="418.4" rx="4.4" ry="3.2" fill="#9a8a6c" stroke="#453e30" stroke-width="0.9"/>
<ellipse cx="158.6" cy="418.4" rx="4.4" ry="3.2" fill="#958568" stroke="#433b2e" stroke-width="0.9"/>
<ellipse cx="173.0" cy="418.4" rx="4.4" ry="3.2" fill="#7e705a" stroke="#383228" stroke-width="0.9"/>
<ellipse cx="187.4" cy="418.4" rx="4.8" ry="3.6" fill="#141414"/>
<ellipse cx="201.8" cy="418.4" rx="4.4" ry="3.2" fill="#9a8a6c" stroke="#453e30" stroke-width="0.9"/>
<ellipse cx="216.2" cy="418.4" rx="4.8" ry="3.6" fill="#222"/>
<ellipse cx="230.6" cy="418.4" rx="4.8" ry="3.6" fill="#1c1c1c"/>
<ellipse cx="245.0" cy="418.4" rx="4.4" ry="3.2" fill="#a89876" stroke="#4b4435" stroke-width="0.9"/>
<ellipse cx="259.4" cy="418.4" rx="4.4" ry="3.2" fill="#a89876" stroke="#4b4435" stroke-width="0.9"/>
<ellipse cx="273.8" cy="418.4" rx="4.4" ry="3.2" fill="#a89876" stroke="#4b4435" stroke-width="0.9"/>
</g>
<!-- top yellow sticker -->
<rect x="241" y="244" width="33" height="11" fill="#f0ee50"/>
<g fill="#8a8a40"><rect x="244" y="246.5" width="12" height="0.8"/><rect x="258" y="246.5" width="12" height="0.8"/><rect x="244" y="249.5" width="26" height="0.8"/><rect x="244" y="252" width="20" height="0.8"/></g>
<!-- front lip -->
<polygon points="82.5,432 298,430 300,436 300,452 86,452" fill="#d2d2d4"/>
<line x1="83" y1="432.3" x2="298" y2="430.3" stroke="#b8b8ba" stroke-width="1"/>
<!-- left front metal -->
<polygon points="83,434 112,434 112,508 89,508 88.5,470" fill="#d6d6d8"/>
<rect x="93.5" y="457" width="18" height="20" fill="#3a3a3c"/>
<circle cx="99.7" cy="464" r="4.6" fill="#c8c8ca"/><circle cx="99" cy="463" r="2" fill="#f2f2f2"/>
<rect x="93" y="478" width="19" height="25" fill="#c2c2c4"/>
<circle cx="99.5" cy="494" r="5.3" fill="#8a8a8c"/><circle cx="99" cy="493" r="3.4" fill="#e4e4e6"/><circle cx="100" cy="495.5" r="1.5" fill="#3a6a50"/>
<!-- right bracket -->
<polygon points="290,440 304,440 304,506 290,508" fill="#a6a6a8"/>
<rect x="297" y="458" width="3.5" height="11" rx="1.7" fill="#f4f4f4"/>
<!-- PCB -->
<rect x="258" y="452" width="32.5" height="53" fill="#d4cca8"/>
<rect x="258" y="452" width="18" height="18" fill="#24261e"/>
<rect x="276" y="452" width="14" height="10" fill="#3a3a30"/>
<rect x="261" y="469" width="19" height="27" fill="#e6dece"/>
<circle cx="282.8" cy="472.5" r="4.3" fill="#36a83e"/><circle cx="282" cy="471.5" r="1.6" fill="#8ae08a"/>
<circle cx="268" cy="481.5" r="5.2" fill="#e68a3a"/>
<circle cx="264" cy="492" r="1.6" fill="#333"/><circle cx="275" cy="492" r="1.6" fill="#333"/>
<rect x="280" y="486" width="10.5" height="22" fill="#9c9c9e"/>
<!-- yellow label -->
<rect x="90" y="403" width="73" height="29" fill="#f4f03c"/>
<g fill="#555" >
<rect x="94" y="406" width="14" height="1.2"/><rect x="94" y="410" width="6" height="1.2"/>
<rect x="94" y="414" width="40" height="0.9"/><rect x="94" y="417" width="50" height="0.9"/><rect x="94" y="420" width="52" height="0.9"/>
<rect x="94" y="423" width="22" height="0.9"/><rect x="94" y="426.5" width="40" height="1"/>
</g>
<path d="M151 409 l-4 7 h4 l-3 7 l6 -8 h-4 l3 -6 z" fill="#222"/>
<!-- orange cover -->
<rect x="112" y="437" width="146" height="27" fill="url(#orangeCov)"/>
<rect x="112" y="450.5" width="146" height="1.2" fill="#8a4a24" opacity="0.6"/>
<rect x="112" y="462.5" width="146" height="1.5" fill="#6a3416"/>
<g fill="#6a3a20"><rect x="155" y="446" width="1.4" height="2"/><rect x="175" y="446" width="1.4" height="2"/><rect x="195" y="446" width="1.4" height="2"/><rect x="215" y="446" width="1.4" height="2"/><rect x="235" y="446" width="1.4" height="2"/></g>
<!-- terminal block -->
<rect x="112" y="464" width="146" height="39" fill="#161616"/>
<rect x="112" y="468" width="146" height="2.5" fill="#2e2e2e"/>
<rect x="131.5" y="464" width="2" height="39" fill="#2c2c2c"/>
<rect x="152.5" y="464" width="2" height="39" fill="#2c2c2c"/>
<rect x="173.3" y="464" width="2" height="39" fill="#2c2c2c"/>
<rect x="194.0" y="464" width="2" height="39" fill="#2c2c2c"/>
<rect x="214.8" y="464" width="2" height="39" fill="#2c2c2c"/>
<rect x="235.6" y="464" width="2" height="39" fill="#2c2c2c"/>
<circle cx="122" cy="478.6" r="5.2" fill="#ddd6ce"/>
<circle cx="122" cy="479" r="2.6" fill="#b8aca0"/>
<path d="M119.5 479 h5 M122 476.5 v5" stroke="#6a5a50" stroke-width="1"/>
<path d="M115 483 l3 0 q4 4 8 0 l3 0 l-3 6 q-4 3 -8 0 z" fill="#e8e4de"/>
<circle cx="143" cy="478.6" r="5.2" fill="#ddd6ce"/>
<circle cx="143" cy="479" r="2.6" fill="#b8aca0"/>
<path d="M140.5 479 h5 M143 476.5 v5" stroke="#6a5a50" stroke-width="1"/>
<path d="M136 483 l3 0 q4 4 8 0 l3 0 l-3 6 q-4 3 -8 0 z" fill="#e8e4de"/>
<circle cx="164" cy="478.6" r="5.2" fill="#ddd6ce"/>
<circle cx="164" cy="479" r="2.6" fill="#b8aca0"/>
<path d="M161.5 479 h5 M164 476.5 v5" stroke="#6a5a50" stroke-width="1"/>
<path d="M157 483 l3 0 q4 4 8 0 l3 0 l-3 6 q-4 3 -8 0 z" fill="#e8e4de"/>
<circle cx="184.6" cy="478.6" r="5.2" fill="#ddd6ce"/>
<circle cx="184.6" cy="479" r="2.6" fill="#b8aca0"/>
<path d="M182.1 479 h5 M184.6 476.5 v5" stroke="#6a5a50" stroke-width="1"/>
<path d="M177.6 483 l3 0 q4 4 8 0 l3 0 l-3 6 q-4 3 -8 0 z" fill="#e8e4de"/>
<circle cx="205.4" cy="478.6" r="5.2" fill="#ddd6ce"/>
<circle cx="205.4" cy="479" r="2.6" fill="#b8aca0"/>
<path d="M202.9 479 h5 M205.4 476.5 v5" stroke="#6a5a50" stroke-width="1"/>
<path d="M198.4 483 l3 0 q4 4 8 0 l3 0 l-3 6 q-4 3 -8 0 z" fill="#e8e4de"/>
<circle cx="226.2" cy="478.6" r="5.2" fill="#ddd6ce"/>
<circle cx="226.2" cy="479" r="2.6" fill="#b8aca0"/>
<path d="M223.7 479 h5 M226.2 476.5 v5" stroke="#6a5a50" stroke-width="1"/>
<path d="M219.2 483 l3 0 q4 4 8 0 l3 0 l-3 6 q-4 3 -8 0 z" fill="#e8e4de"/>
<circle cx="247" cy="478.6" r="5.2" fill="#ddd6ce"/>
<circle cx="247" cy="479" r="2.6" fill="#b8aca0"/>
<path d="M244.5 479 h5 M247 476.5 v5" stroke="#6a5a50" stroke-width="1"/>
<path d="M240 483 l3 0 q4 4 8 0 l3 0 l-3 6 q-4 3 -8 0 z" fill="#e8e4de"/>
<rect x="115.5" y="496" width="13" height="6" fill="#a83434"/>
<rect x="136.5" y="496" width="13" height="6" fill="#a83434"/>
<g fill="#d8d0ec" font-size="5.5" font-weight="bold">
<text x="180.5" y="501.5">V-</text><text x="201" y="501.5">V-</text><text x="221.5" y="501.5">V+</text><text x="242.5" y="501.5">V+</text>
</g>
<circle cx="164" cy="499" r="2.6" fill="none" stroke="#d8d0ec" stroke-width="0.8"/>
<rect x="110" y="502.5" width="152" height="2.5" fill="#e6dec6"/>
<rect x="89" y="505" width="201" height="4" fill="#b4b4b8"/>
</g>

<!-- ============ DIMMER ============ -->
<g id="dimmer">
<path d="M372 377 H356 Q346 377 346 387 V449 A21 21 0 0 1 346 491 V558 Q346 568 356 568 H372 Z" fill="#282828"/>
<path d="M589 378 H602 Q612 378 612 388 V453 A21 21 0 0 0 612 496 V556 Q612 566 602 566 H589 Z" fill="#2b2b2b"/>
<rect x="371.5" y="369" width="218" height="201" rx="2" fill="#2b2b2b"/>
<line x1="371.8" y1="372" x2="371.8" y2="568" stroke="#444" stroke-width="0.8"/>
<line x1="589" y1="372" x2="589" y2="568" stroke="#444" stroke-width="0.8"/>
<rect x="340" y="365" width="280" height="210" filter="url(#grain)" clip-path="url(#dimClip)" opacity="0.22"/>
<circle cx="358.5" cy="405" r="6.3" fill="#fff"/><circle cx="358.5" cy="540" r="6.3" fill="#fff"/>
<circle cx="598" cy="405.5" r="6.3" fill="#fff"/><circle cx="598" cy="540" r="6.3" fill="#fff"/>
<!-- white arc -->
<path d="M434 455 A59.75 64.5 0 0 1 553.5 455 L529 455 A46 52 0 0 0 437 455 Z" fill="#f4f4f4"/>
<!-- knob -->
<circle cx="482.5" cy="445.5" r="38.5" fill="#141414"/>
<circle cx="482.5" cy="445.5" r="34" fill="#1e1e1e"/>
<rect x="462.5" y="449.3" width="26" height="6.4" rx="1" fill="#f2f2f2" transform="rotate(-30 475.5 452.5)"/>
<g fill="#f0f0f0">
<text x="381" y="396.8" font-size="14.2">DIMMER</text>
<text x="543" y="403.6" font-size="13" stroke="#f0f0f0" stroke-width="0.35">RoHS</text>
<text x="421" y="482.6" font-size="11">OFF</text>
<text x="528" y="482.6" font-size="11">ON</text>
<text x="443.2" y="497.6" font-size="12" font-weight="bold" textLength="55.3" lengthAdjust="spacingAndGlyphs">DC12-24V</text><text x="504.3" y="497.6" font-size="12" font-weight="bold" textLength="20.3" lengthAdjust="spacingAndGlyphs">30A</text>
</g>
<!-- CE -->
<g fill="none" stroke="#f4f4f4" stroke-width="2.2">
<path d="M559.2 380.7 A5.3 5.3 0 0 0 559.2 391.3"/>
<path d="M567.8 380.7 A5.3 5.3 0 0 0 567.8 391.3 M562.6 386 H567.2"/>
</g>
<!-- terminal -->
<rect x="414.5" y="508" width="131" height="61" fill="#141414"/>
<rect x="419.5" y="511" width="122.5" height="50" fill="url(#dimCov)"/>
<g>
<rect x="448.5" y="521" width="2.5" height="38" fill="#5e3018"/>
<rect x="478.8" y="521" width="2.5" height="38" fill="#5e3018"/>
<rect x="509.2" y="521" width="2.5" height="38" fill="#5e3018"/>
<circle cx="435.0" cy="538.6" r="10.6" fill="#b8734a"/>
<circle cx="435.0" cy="538.6" r="8.2" fill="#d99a72" stroke="#7a3c1c" stroke-width="1.3"/>
<path d="M427.5 535 A8 8 0 0 1 440.0 531" fill="none" stroke="#f2c8a6" stroke-width="1.6"/>
<circle cx="435.0" cy="539.5" r="4.6" fill="#e4b08c" stroke="#9a5a34" stroke-width="0.9"/>
<path d="M432.0 539.5 h6 M435.0 536.5 v6" stroke="#8a4a28" stroke-width="1"/>
<circle cx="444.5" cy="541.5" r="1" fill="#f0d0b8"/>
<circle cx="465.0" cy="538.6" r="10.6" fill="#b8734a"/>
<circle cx="465.0" cy="538.6" r="8.2" fill="#d99a72" stroke="#7a3c1c" stroke-width="1.3"/>
<path d="M457.5 535 A8 8 0 0 1 470.0 531" fill="none" stroke="#f2c8a6" stroke-width="1.6"/>
<circle cx="465.0" cy="539.5" r="4.6" fill="#e4b08c" stroke="#9a5a34" stroke-width="0.9"/>
<path d="M462.0 539.5 h6 M465.0 536.5 v6" stroke="#8a4a28" stroke-width="1"/>
<circle cx="474.5" cy="541.5" r="1" fill="#f0d0b8"/>
<circle cx="495.4" cy="538.6" r="10.6" fill="#b8734a"/>
<circle cx="495.4" cy="538.6" r="8.2" fill="#d99a72" stroke="#7a3c1c" stroke-width="1.3"/>
<path d="M487.9 535 A8 8 0 0 1 500.4 531" fill="none" stroke="#f2c8a6" stroke-width="1.6"/>
<circle cx="495.4" cy="539.5" r="4.6" fill="#e4b08c" stroke="#9a5a34" stroke-width="0.9"/>
<path d="M492.4 539.5 h6 M495.4 536.5 v6" stroke="#8a4a28" stroke-width="1"/>
<circle cx="504.9" cy="541.5" r="1" fill="#f0d0b8"/>
<circle cx="524.8" cy="538.6" r="10.6" fill="#b8734a"/>
<circle cx="524.8" cy="538.6" r="8.2" fill="#d99a72" stroke="#7a3c1c" stroke-width="1.3"/>
<path d="M517.3 535 A8 8 0 0 1 529.8 531" fill="none" stroke="#f2c8a6" stroke-width="1.6"/>
<circle cx="524.8" cy="539.5" r="4.6" fill="#e4b08c" stroke="#9a5a34" stroke-width="0.9"/>
<path d="M521.8 539.5 h6 M524.8 536.5 v6" stroke="#8a4a28" stroke-width="1"/>
<circle cx="534.3" cy="541.5" r="1" fill="#f0d0b8"/>
</g>
<!-- IN / OUT boxes -->
<g fill="#1c1c1c" stroke="#ececec" stroke-width="1.4">
<rect x="380.4" y="527.2" width="29.4" height="29.6" rx="1.5"/><line x1="380.4" y1="540.8" x2="409.8" y2="540.8"/><line x1="394.8" y1="540.8" x2="394.8" y2="556.8"/>
<rect x="555.4" y="527.2" width="29.4" height="29.6" rx="1.5"/><line x1="555.4" y1="540.8" x2="584.8" y2="540.8"/><line x1="569.8" y1="540.8" x2="569.8" y2="556.8"/>
</g>
<g fill="#eee" font-weight="bold">
<text x="390.3" y="538.6" font-size="11" textLength="10.5" lengthAdjust="spacingAndGlyphs">IN</text>
<text x="557.6" y="538.6" font-size="11" textLength="25" lengthAdjust="spacingAndGlyphs">OUT</text>
<text x="382.6" y="554.2" font-size="10.5" textLength="11" lengthAdjust="spacingAndGlyphs">V-</text>
<text x="396.3" y="554.2" font-size="10.5" textLength="12" lengthAdjust="spacingAndGlyphs">V+</text>
<text x="557" y="554.2" font-size="10.5" textLength="12" lengthAdjust="spacingAndGlyphs">V+</text>
<text x="571.3" y="554.2" font-size="10.5" textLength="11" lengthAdjust="spacingAndGlyphs">V-</text>
</g>
</g>

<!-- ============ LED STRIP ============ -->
<g id="strip">
<rect x="656" y="205" width="54" height="355" fill="url(#stripG)"/>
<line x1="658" y1="214.6" x2="708" y2="214.6" stroke="#a0a0a8" stroke-width="1.2"/><ellipse cx="669.2" cy="214.6" rx="5.2" ry="7.3" fill="#f6a81e"/><ellipse cx="696.1" cy="214.6" rx="5.2" ry="7.3" fill="#f6a81e"/>
<rect x="671.8" y="233.8" width="21.800000000000068" height="18.599999999999994" rx="1.2" fill="#fbf6d8"/><rect x="672.8" y="234.8" width="19.800000000000068" height="16.599999999999994" rx="1" fill="#f6ea7a"/><rect x="669.8" y="232.8" width="2.2" height="20.599999999999994" rx="1" fill="#262626"/><rect x="693.4" y="232.8" width="2.2" height="20.599999999999994" rx="1" fill="#262626"/><rect x="670.3" y="251.6" width="24.800000000000068" height="2.8" rx="1.2" fill="#262626"/><ellipse cx="682.7" cy="232.4" rx="2.2" ry="1.2" fill="#444"/>
<rect x="661.2" y="236.5" width="1.8" height="7" fill="#222"/><path d="M699.5 240 h6 M702.5 237 v6" stroke="#222" stroke-width="1.6"/>
<path d="M677.5 257.4 H661.2 V279.7 H677.5 M688.5 279.7 H703.8 V257.4 H688.5" fill="none" stroke="#222" stroke-width="1.7"/><rect x="668.2" y="266.4" width="32.6" height="12" rx="6" fill="#1e1e1e"/><rect x="673.6" y="268.2" width="1.7" height="8.4" fill="#e8e8e8"/><rect x="692.5" y="268.2" width="1.7" height="8.4" fill="#e8e8e8"/><text x="684" y="275.0" font-size="5.8" fill="#aaa" text-anchor="middle">102</text><text x="683" y="285.0" font-size="5.5" font-weight="bold" fill="#222" text-anchor="middle">0C</text>
<rect x="671.8" y="288.5" width="21.800000000000068" height="18.0" rx="1.2" fill="#fbf6d8"/><rect x="672.8" y="289.5" width="19.800000000000068" height="16.0" rx="1" fill="#f6ea7a"/><rect x="669.8" y="287.5" width="2.2" height="20.0" rx="1" fill="#262626"/><rect x="693.4" y="287.5" width="2.2" height="20.0" rx="1" fill="#262626"/><rect x="670.3" y="286.5" width="24.800000000000068" height="2.6" rx="1.2" fill="#262626"/><circle cx="676.3" cy="308.0" r="1.1" fill="#333"/><circle cx="689.1" cy="308.0" r="1.1" fill="#333"/>
<rect x="672" y="343.8" width="21.600000000000023" height="16.69999999999999" rx="1.2" fill="#fbf6d8"/><rect x="673" y="344.8" width="19.600000000000023" height="14.699999999999989" rx="1" fill="#f6ea7a"/><rect x="670" y="342.8" width="2.2" height="18.69999999999999" rx="1" fill="#262626"/><rect x="693.4" y="342.8" width="2.2" height="18.69999999999999" rx="1" fill="#262626"/><rect x="670.5" y="341.8" width="24.600000000000023" height="2.6" rx="1.2" fill="#262626"/><circle cx="676.5" cy="362.0" r="1.1" fill="#333"/><circle cx="689.1" cy="362.0" r="1.1" fill="#333"/>
<rect x="661.2" y="365.2" width="1.8" height="7" fill="#222"/><path d="M699.5 368.7 h6 M702.5 365.7 v6" stroke="#222" stroke-width="1.6"/>
<line x1="658" y1="380.5" x2="708" y2="380.5" stroke="#a0a0a8" stroke-width="1.2"/><ellipse cx="669.2" cy="380.5" rx="5.2" ry="7.3" fill="#f6a81e"/><ellipse cx="696.1" cy="380.5" rx="5.2" ry="7.3" fill="#f6a81e"/>
<rect x="672" y="398.8" width="21.600000000000023" height="16.69999999999999" rx="1.2" fill="#fbf6d8"/><rect x="673" y="399.8" width="19.600000000000023" height="14.699999999999989" rx="1" fill="#f6ea7a"/><rect x="670" y="397.8" width="2.2" height="18.69999999999999" rx="1" fill="#262626"/><rect x="693.4" y="397.8" width="2.2" height="18.69999999999999" rx="1" fill="#262626"/><rect x="670.5" y="396.8" width="24.600000000000023" height="2.6" rx="1.2" fill="#262626"/><circle cx="676.5" cy="417.0" r="1.1" fill="#333"/><circle cx="689.1" cy="417.0" r="1.1" fill="#333"/>
<path d="M677.5 421.3 H661.2 V443.6 H677.5 M688.5 443.6 H703.8 V421.3 H688.5" fill="none" stroke="#222" stroke-width="1.7"/><rect x="668.2" y="430.3" width="32.6" height="12" rx="6" fill="#1e1e1e"/><rect x="673.6" y="432.1" width="1.7" height="8.4" fill="#e8e8e8"/><rect x="692.5" y="432.1" width="1.7" height="8.4" fill="#e8e8e8"/><text x="684" y="438.90000000000003" font-size="5.8" fill="#aaa" text-anchor="middle">102</text><text x="683" y="448.90000000000003" font-size="5.5" font-weight="bold" fill="#222" text-anchor="middle">0C</text>
<rect x="672" y="454.5" width="21.600000000000023" height="17.5" rx="1.2" fill="#fbf6d8"/><rect x="673" y="455.5" width="19.600000000000023" height="15.5" rx="1" fill="#f6ea7a"/><rect x="670" y="453.5" width="2.2" height="19.5" rx="1" fill="#262626"/><rect x="693.4" y="453.5" width="2.2" height="19.5" rx="1" fill="#262626"/><rect x="670.5" y="452.5" width="24.600000000000023" height="2.6" rx="1.2" fill="#262626"/><circle cx="676.5" cy="473.5" r="1.1" fill="#333"/><circle cx="689.1" cy="473.5" r="1.1" fill="#333"/>
<rect x="671.3" y="510.5" width="22.200000000000045" height="18.5" rx="1.2" fill="#fbf6d8"/><rect x="672.3" y="511.5" width="20.200000000000045" height="16.5" rx="1" fill="#f6ea7a"/><rect x="669.3" y="509.5" width="2.2" height="20.5" rx="1" fill="#262626"/><rect x="693.3" y="509.5" width="2.2" height="20.5" rx="1" fill="#262626"/><rect x="669.8" y="508.5" width="25.200000000000045" height="2.6" rx="1.2" fill="#262626"/><circle cx="675.8" cy="530.5" r="1.1" fill="#333"/><circle cx="689.0" cy="530.5" r="1.1" fill="#333"/>
<rect x="661.2" y="519.5" width="1.8" height="7" fill="#222"/><path d="M699.5 523 h6 M702.5 520 v6" stroke="#222" stroke-width="1.6"/>
<line x1="658" y1="547.2" x2="708" y2="547.2" stroke="#a8a8b0" stroke-width="1.2"/><ellipse cx="669.7" cy="547.2" rx="4.2" ry="6.6" fill="#f8f8f8" stroke="#3a3a3a" stroke-width="1.5"/><ellipse cx="696.4" cy="547.2" rx="4.2" ry="6.6" fill="#f8f8f8" stroke="#3a3a3a" stroke-width="1.5"/>
</g>

<!-- wires -->
<g fill="none" stroke-width="3.7" stroke-linejoin="round">
<path d="M206.1 492 V692.6 a12 12 0 0 0 12 12 H422.7 a12 12 0 0 0 12 -12 V569" stroke="#111"/>
<path d="M226.3 492 V668 a12 12 0 0 0 12 12 H453 a12 12 0 0 0 12 -12 V569" stroke="#e00c0c"/>
<path d="M525.5 569 V667.8 a12 12 0 0 0 12 12 H659.2 a12 12 0 0 0 12 -12 V555" stroke="#111"/>
<path d="M496.7 569 V692.5 a12 12 0 0 0 12 12 H685.3 a12 12 0 0 0 12 -12 V555" stroke="#e00c0c"/>
</g>

<!-- labels -->
<g font-size="21" fill="#111">
<text x="172.5" y="533.2" letter-spacing="2.5">V-</text>
<text x="237.5" y="533.2" letter-spacing="1.5">V+</text>
<text x="635.5" y="589" letter-spacing="2.5">V-</text>
<text x="705.5" y="589" letter-spacing="1.5">V+</text>
<text x="57" y="542">L</text>
<text transform="translate(54.3 571.5) scale(1.2 1)">N</text>
</g>
<text x="270.3" y="667.9" font-size="22.5" font-weight="bold" fill="#111" textLength="138.5" lengthAdjust="spacingAndGlyphs">DC 12V-24V</text>
<text x="93.2" y="749.6" font-size="32" font-weight="bold" fill="#111" stroke="#111" stroke-width="0.7" textLength="83" lengthAdjust="spacingAndGlyphs">220V</text>

<!-- ground symbol -->
<g stroke="#111" stroke-width="1.4" fill="none">
<circle cx="64.1" cy="592.6" r="8.2"/>
<line x1="64" y1="585" x2="64" y2="593"/>
<line x1="58.5" y1="593" x2="69.5" y2="593"/>
<line x1="60" y1="596.3" x2="68" y2="596.3"/>
<line x1="62" y1="599.3" x2="66" y2="599.3"/>
</g>

<!-- mains wires -->
<g stroke-width="2" fill="none" stroke-linecap="round">
<line x1="75" y1="534.5" x2="121" y2="490" stroke="#d82222"/>
<line x1="77.5" y1="562.5" x2="142.5" y2="487.5" stroke="#1c5ad8"/>
<line x1="78.5" y1="591" x2="162.5" y2="490" stroke="#e4e040"/>
</g>
<g stroke-width="3" fill="none" stroke-linecap="round">
<path d="M136 527 L121 490" stroke="#c07a78"/>
<path d="M139 525 L142 488" stroke="#3a7ae8"/>
<path d="M140 526 L162 491" stroke="#dede50"/>
</g>

<!-- plug -->
<path d="M129 527 L142.5 527 L140.3 612 L127.3 612 Z" fill="#111"/>
<path d="M105.5 676 V645 A29.5 29.5 0 0 1 164.5 645 V676 Z" fill="none" stroke="#000" stroke-width="8.5"/>
<rect x="114.8" y="676" width="7.2" height="37" fill="#000"/>
<rect x="147.2" y="676" width="7.2" height="37" fill="#000"/>

</svg>
</body></html>
